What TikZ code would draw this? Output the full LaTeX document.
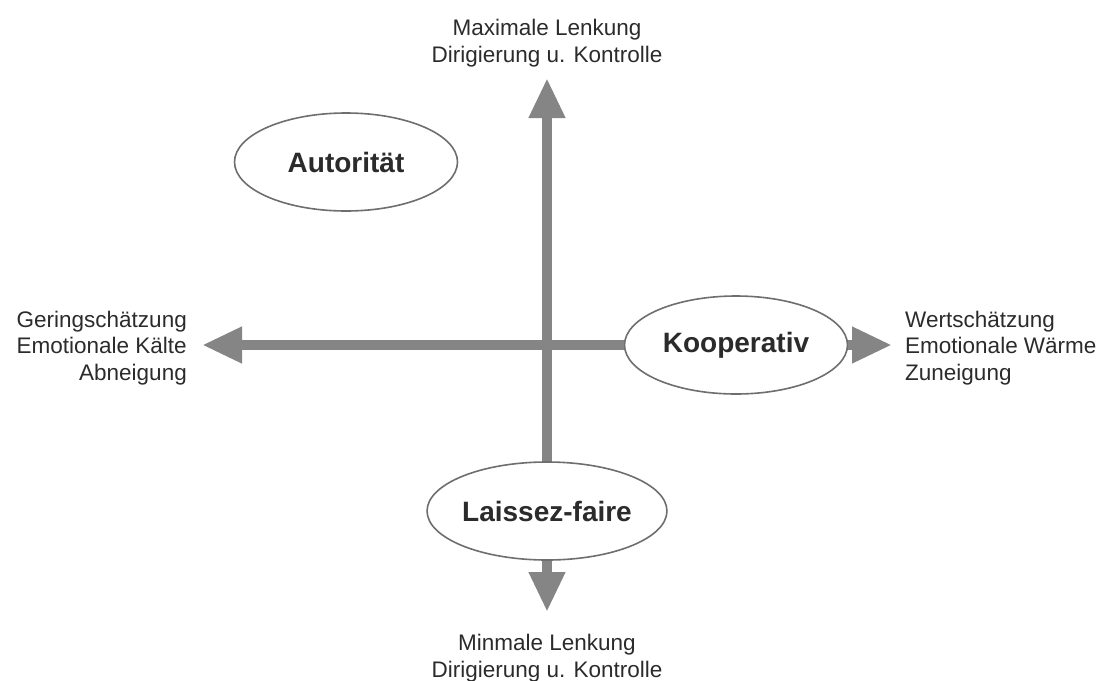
\documentclass[tikz,border=0pt]{standalone}
\usepackage{fontspec}
\setmainfont{Liberation Sans}
\usetikzlibrary{shapes.geometric,arrows.meta}
\definecolor{AxisGray}{HTML}{858585}
\definecolor{RimGray}{HTML}{6E6E6E}
\definecolor{InkGray}{HTML}{2B2B2B}

\tikzset{
  styleoval/.style={ellipse,draw=RimGray,line width=1.6pt,fill=white,
    minimum width=223pt,minimum height=98pt,inner sep=0pt,text=InkGray,
    font=\fontsize{28}{32}\selectfont\bfseries},
  axisarrow/.style={AxisGray,line width=10pt,-{Triangle[length=40pt,width=34pt]}},
  polelabel/.style={text=InkGray,inner sep=0pt,font=\fontsize{22.5}{26.5}\selectfont}
}

\begin{document}
\begin{tikzpicture}[x=1pt,y=-1pt]
    \useasboundingbox (0,0) rectangle (1107,680);

    \coordinate (TopTip) at (547,78);
    \coordinate (BottomTip) at (547,612);
    \coordinate (LeftTip) at (202,345);
    \coordinate (RightTip) at (892,345);

    \node[styleoval] (Laissez) at (547,511) {Laissez-faire};
    \node[styleoval] (Koop) at (736,345) {Kooperativ};
    \node[styleoval] (Autor) at (346,162) {Autorität};

    \draw[axisarrow] (Koop.west) -- (LeftTip);
    \draw[axisarrow] (Laissez.north) -- (TopTip);
    \draw[axisarrow] (Laissez.south) -- (BottomTip);
    \draw[axisarrow] (Koop.east) -- (RightTip);

    \node[polelabel,align=center,anchor=base] (MaxLabel) at (547,62)
        {Maximale Lenkung\\Dirigierung u. Kontrolle};
    \node[polelabel,align=center,anchor=base] (MinLabel) at (547,677)
        {Minmale Lenkung\\Dirigierung u. Kontrolle};
    \node[polelabel,align=right,anchor=base east] (ColdLabel) at (187,380)
        {Geringschätzung\\Emotionale Kälte\\Abneigung};
    \node[polelabel,align=left,anchor=base west] (WarmLabel) at (905,380)
        {Wertschätzung\\Emotionale Wärme\\Zuneigung};
\end{tikzpicture}
\end{document}
